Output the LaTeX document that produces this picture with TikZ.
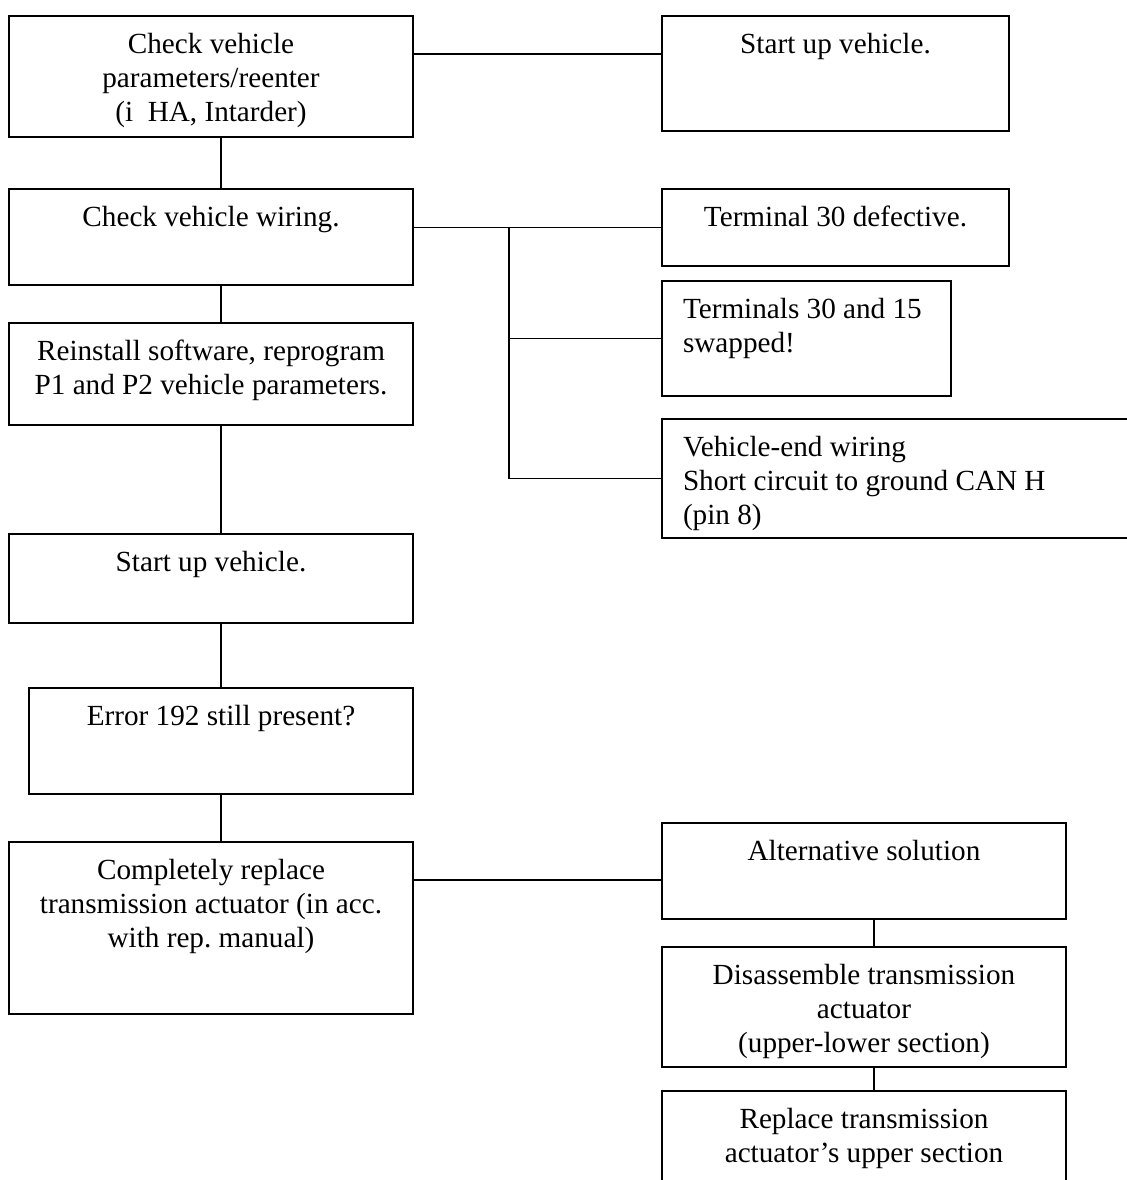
\documentclass[tikz,border=0pt]{standalone}
\usepackage{fontspec}
\setmainfont{Liberation Serif}
\frenchspacing
\newcommand\ctext[3]{\parbox[c][#2bp][t]{#1bp}{\centering\rule{0pt}{37.5bp}#3}}
\newcommand\ltext[3]{\parbox[c][#2bp][t]{#1bp}{\raggedright\leftskip=21bp\rule{0pt}{37.5bp}#3}}
\begin{document}
\begin{tikzpicture}[x=1bp,y=-1bp,
  box/.style={draw=black, line width=1.8bp, inner sep=0pt, outer sep=0pt, anchor=north west,
    font=\fontsize{29.2bp}{34bp}\selectfont},
  conn/.style={draw=black, line width=1.4bp}]
\useasboundingbox (0,0) rectangle (1127,1180);
\clip (0,0) rectangle (1127,1180);
\fill[white] (0,0) rectangle (1127,1180);
% left column
\node[box] (b1) at (9,16) {\ctext{404}{121}{Check vehicle\\parameters/reenter\\(i\ \ HA, Intarder)}};
\node[box] (b3) at (9,189) {\ctext{404}{96}{Check vehicle wiring.}};
\node[box] (b7) at (9,323) {\ctext{404}{102}{Reinstall software, reprogram\\P1 and P2 vehicle parameters.}};
\node[box] (b8) at (9,534) {\ctext{404}{89}{Start up vehicle.}};
\node[box] (b9) at (29,688) {\ctext{384}{106}{Error 192 still present?}};
\node[box] (b10) at (9,842) {\ctext{404}{172}{Completely replace\\transmission actuator (in acc.\\with rep. manual)}};
% right column
\node[box] (b2) at (662,16) {\ctext{347}{115}{Start up vehicle.}};
\node[box] (b4) at (662,189) {\ctext{347}{77}{Terminal 30 defective.}};
\node[box] (b5) at (662,281) {\ltext{289}{115}{Terminals 30 and 15\\swapped!}};
\node[box] (b6) at (662,419) {\ltext{500}{119}{Vehicle-end wiring\\Short circuit to ground CAN H\\(pin 8)}};
\node[box] (b11) at (662,823) {\ctext{404}{96}{Alternative solution}};
\node[box] (b12) at (662,947) {\ctext{404}{120}{Disassemble transmission\\actuator\\(upper-lower section)}};
\node[box] (b13) at (662,1091) {\ctext{404}{110}{Replace transmission\\actuator’s upper section}};
% helper coordinates
\coordinate (colx) at (221,0);
\coordinate (colr) at (874,0);
\coordinate (br) at (509,0);
\coordinate (y1) at (0,54);
\coordinate (y3) at (0,880);
% connectors
\draw[conn] (b1.east |- y1) -- (b2.west |- y1);
\draw[conn] (b1.south -| colx) -- (b3.north -| colx);
\draw[conn] (b3.south -| colx) -- (b7.north -| colx);
\draw[conn] (b7.south -| colx) -- (b8.north -| colx);
\draw[conn] (b8.south -| colx) -- (b9.north -| colx);
\draw[conn] (b9.south -| colx) -- (b10.north -| colx);
\draw[conn] (b3.east |- b4.west) -- (b4.west);
\draw[conn] (br |- b4.west) -- (br |- b6.west);
\draw[conn] (br |- b5.west) -- (b5.west);
\draw[conn] (br |- b6.west) -- (b6.west);
\draw[conn] (b10.east |- y3) -- (b11.west |- y3);
\draw[conn] (b11.south -| colr) -- (b12.north -| colr);
\draw[conn] (b12.south -| colr) -- (b13.north -| colr);
\end{tikzpicture}
\end{document}
